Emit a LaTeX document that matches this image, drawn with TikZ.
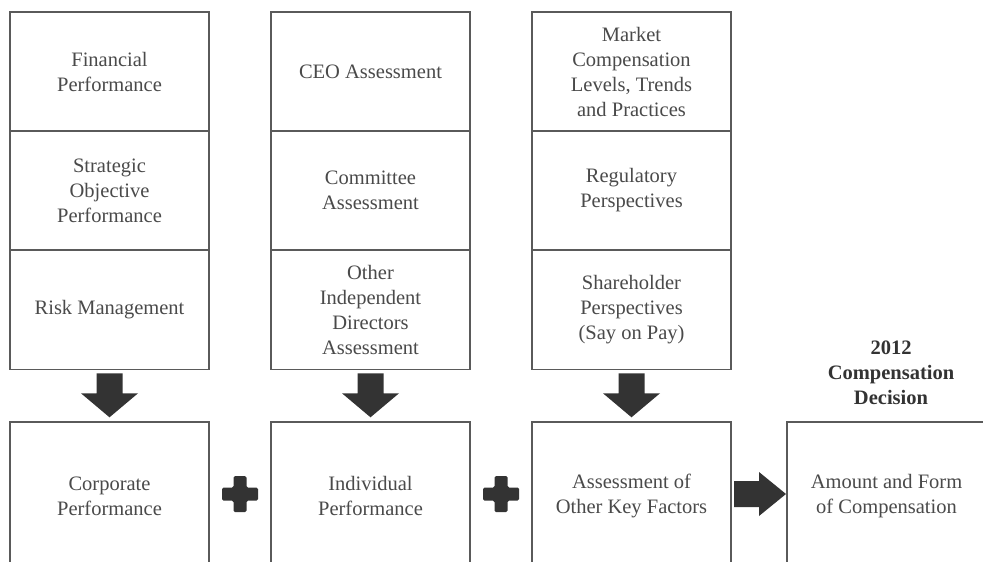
\documentclass[tikz,border=0pt]{standalone}
\usepackage{fontspec}
\setmainfont{Liberation Serif}
\usetikzlibrary{calc}
\definecolor{boxline}{HTML}{5A5A5A}
\definecolor{txt}{HTML}{4A4A4A}
\definecolor{arrfill}{HTML}{333333}
\tikzset{
  cell/.style={draw=boxline, line width=1.6pt, minimum width=199pt, minimum height=119pt,
    inner sep=0pt, align=center, text=txt, font=\fontsize{20.5}{25}\selectfont},
  bottombox/.style={cell, minimum height=148pt},
  title/.style={align=center, text=arrfill, font=\fontsize{20.5}{25}\selectfont\bfseries},
  arrowfill/.style={fill=arrfill},
  darr/.pic={\fill[arrowfill] (-13,0) -- (13,0) -- (13,20) -- (28.5,20) -- (0,44) -- (-28.5,20) -- (-13,20) -- cycle;},
  rarr/.pic={\fill[arrowfill] (0,-13) -- (25,-13) -- (25,-22) -- (52,0) -- (25,22) -- (25,13) -- (0,13) -- cycle;},
  plussign/.pic={\fill[arrowfill, rounded corners=1.5pt] (-6.5,-18) -- (6.5,-18) -- (6.5,-6.5) -- (18,-6.5) -- (18,6.5) -- (6.5,6.5) -- (6.5,18) -- (-6.5,18) -- (-6.5,6.5) -- (-18,6.5) -- (-18,-6.5) -- (-6.5,-6.5) -- cycle;}
}
\begin{document}
\begin{tikzpicture}[x=1pt,y=-1pt]
\useasboundingbox (0,0) rectangle (983,562);
\clip (0,0) rectangle (983,562);
\fill[white] (0,0) rectangle (983,562);
% column 1
\node[cell] (a1) at (109.5,71.5) {Financial\\Performance};
\node[cell] (a2) at (109.5,190.5) {Strategic\\Objective\\Performance};
\node[cell] (a3) at (109.5,310) {Risk Management};
% column 2
\node[cell] (b1) at (370.5,71.5) {CEO Assessment};
\node[cell] (b2) at (370.5,190.5) {Committee\\Assessment};
\node[cell] (b3) at (370.5,310) {Other\\Independent\\Directors\\Assessment};
% column 3
\node[cell] (c1) at (631.5,71.5) {Market\\Compensation\\Levels, Trends\\and Practices};
\node[cell] (c2) at (631.5,190.5) {Regulatory\\Perspectives};
\node[cell] (c3) at (631.5,310) {Shareholder\\Perspectives\\(Say on Pay)};
% bottom row
\node[bottombox] (p1) at (109.5,496) {Corporate\\Performance};
\node[bottombox] (p2) at (370.5,496) {Individual\\Performance};
\node[bottombox] (p3) at (631.5,496) {Assessment of\\Other Key Factors};
\node[bottombox] (p4) at (886.5,496) {Amount and Form\\of Compensation};
\node[title] (t4) at (891,373) {2012\\Compensation\\Decision};
% arrows
\pic at ($(a3.south)+(0,3)$) {darr};
\pic at ($(b3.south)+(0,3)$) {darr};
\pic at ($(c3.south)+(0,3)$) {darr};
\pic at ($(p3.east)!0.5!(p4.west)+(-25,-2)$) {rarr};
\pic at ($(p1.east)!0.5!(p2.west)+(0,-2)$) {plussign};
\pic at ($(p2.east)!0.5!(p3.west)+(0,-2)$) {plussign};
\end{tikzpicture}
\end{document}
